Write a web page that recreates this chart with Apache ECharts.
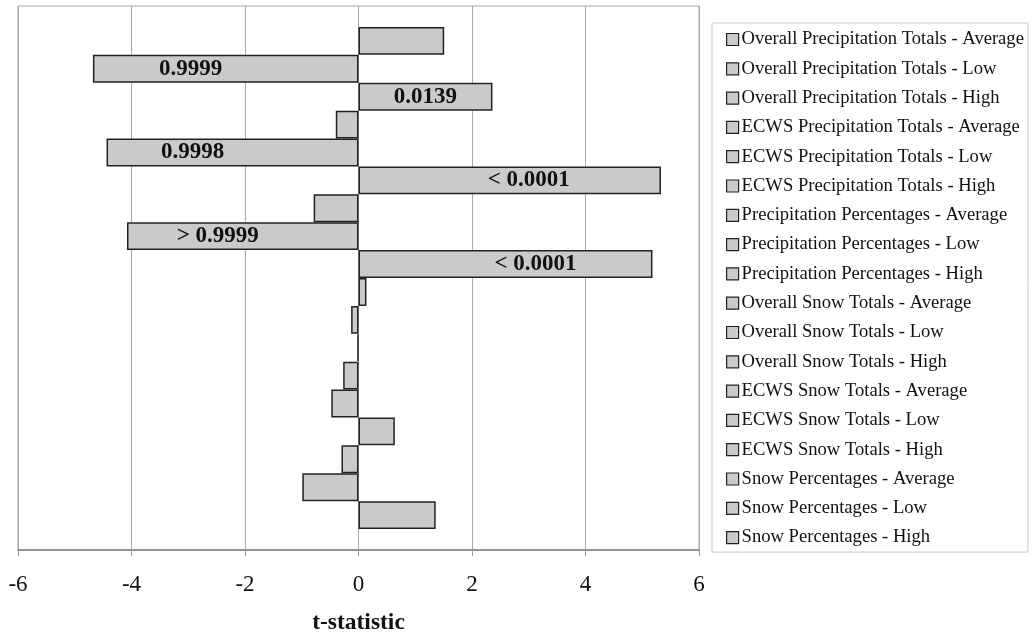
<!DOCTYPE html>
<html>
<head>
<meta charset="utf-8">
<script src="https://cdn.jsdelivr.net/npm/echarts@6/dist/echarts.min.js"></script>
<style>html,body{margin:0;padding:0;background:#fff}#c{width:1032px;height:634px}</style>
</head>
<body>
<div id="c"></div>
<script>
const seriesNames = [
  'Overall Precipitation Totals - Average',
  'Overall Precipitation Totals - Low',
  'Overall Precipitation Totals - High',
  'ECWS Precipitation Totals - Average',
  'ECWS Precipitation Totals - Low',
  'ECWS Precipitation Totals - High',
  'Precipitation Percentages - Average',
  'Precipitation Percentages - Low',
  'Precipitation Percentages - High',
  'Overall Snow Totals - Average',
  'Overall Snow Totals - Low',
  'Overall Snow Totals - High',
  'ECWS Snow Totals - Average',
  'ECWS Snow Totals - Low',
  'ECWS Snow Totals - High',
  'Snow Percentages - Average',
  'Snow Percentages - Low',
  'Snow Percentages - High'
];
const tValues = [1.51, -4.68, 2.36, -0.40, -4.44, 5.33, -0.79, -4.08, 5.18, 0.14, -0.13, -0.02, -0.27, -0.48, 0.64, -0.30, -0.99, 1.36];
const pLabels = ['', '0.9999', '0.0139', '', '0.9998', '< 0.0001', '', '> 0.9999', '< 0.0001', '', '', '', '', '', '', '', '', ''];
const xTicks = [-6, 6, 2]; // min, max, interval
const axisTitle = 't-statistic';

// label horizontal nudges (style only)
const labelShift = [0, -35, 0, 0, -40, 19, 0, -25, 30, 0, 0, 0, 0, 0, 0, 0, 0, 0];

const FONT = 'Liberation Serif';
const chart = echarts.init(document.getElementById('c'));
const series = seriesNames.map((name, i) => ({
  name: name,
  type: 'bar',
  data: [tValues[i]],
  barGap: '0%',
  barCategoryGap: '7.7%',
  itemStyle: { color: '#cacaca', borderColor: '#222', borderWidth: 1.5 },
  label: {
    show: pLabels[i] !== '',
    position: 'inside',
    offset: [labelShift[i], 0],
    formatter: () => pLabels[i],
    fontFamily: FONT,
    fontWeight: 'bold',
    fontSize: 23,
    color: '#111'
  },
  emphasis: { disabled: true },
  animation: false
}));

chart.setOption({
  animation: false,
  grid: {
    left: 18, right: 333, top: 6, bottom: 84,
    containLabel: false,
    outerBoundsMode: 'none',
    show: true, borderColor: '#a8a8a8', borderWidth: 1
  },
  legend: {
    orient: 'vertical',
    left: 712, top: 23,
    padding: [7, 4, 5, 14],
    itemWidth: 12, itemHeight: 12,
    itemGap: 10.3,
    icon: 'rect',
    borderColor: '#c8c8c8', borderWidth: 1,
    textStyle: { fontFamily: FONT, fontSize: 18.6, color: '#111', lineHeight: 19, padding: [0, 0, 0, -2] },
    itemStyle: { borderColor: '#222', borderWidth: 1.2 },
    data: seriesNames
  },
  xAxis: {
    type: 'value',
    min: xTicks[0], max: xTicks[1], interval: xTicks[2],
    name: axisTitle,
    nameLocation: 'middle',
    nameGap: 61,
    nameTextStyle: { fontFamily: FONT, fontWeight: 'bold', fontSize: 23.5, color: '#111' },
    axisLine: { show: true, lineStyle: { color: '#808080', width: 1.5 } },
    axisTick: { show: true, length: 6, lineStyle: { color: '#999' } },
    axisLabel: { fontFamily: FONT, fontSize: 23, color: '#111', margin: 23 },
    splitLine: { show: true, lineStyle: { color: '#a8a8a8', width: 1 } }
  },
  yAxis: {
    type: 'category',
    data: [''],
    inverse: true,
    axisLine: { show: false },
    axisTick: { show: false },
    axisLabel: { show: false }
  },
  series: series
});
</script>
</body>
</html>
